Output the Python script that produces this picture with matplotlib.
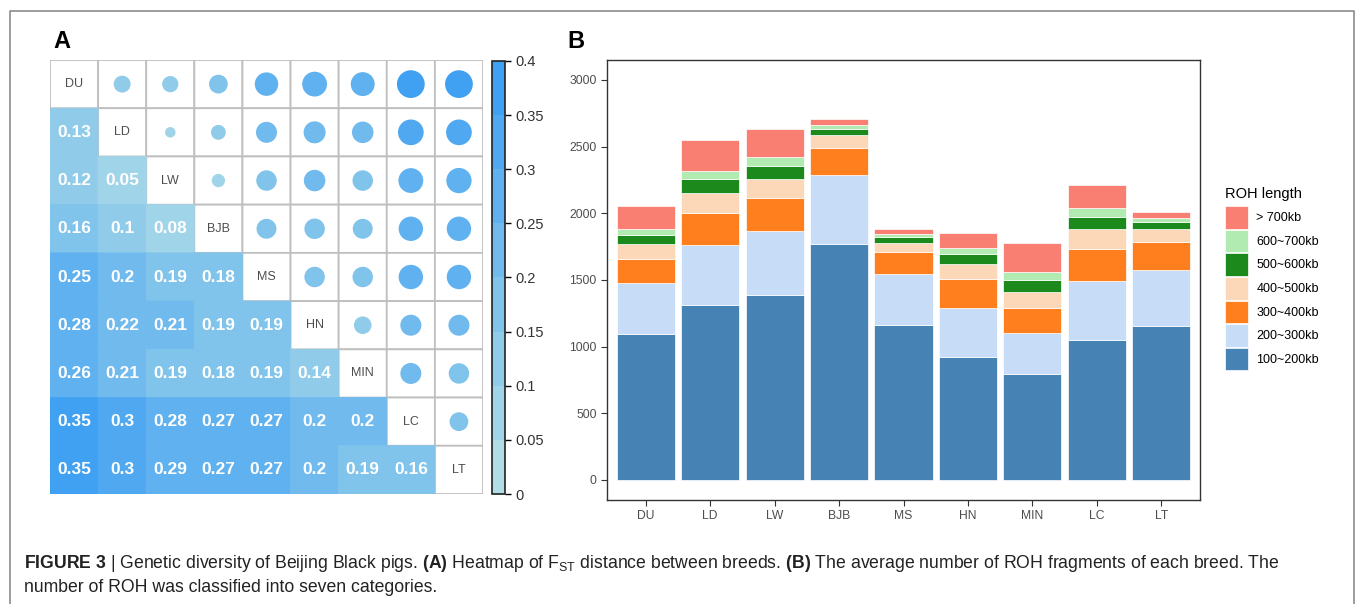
import numpy as np
import matplotlib
matplotlib.use("Agg")
import matplotlib.pyplot as plt
from matplotlib.colors import ListedColormap, BoundaryNorm, LinearSegmentedColormap
from matplotlib.cm import ScalarMappable
from matplotlib.patches import Patch
from matplotlib.lines import Line2D

plt.rcParams['font.family'] = ['Liberation Sans', 'DejaVu Sans']
plt.rcParams['mathtext.fontset'] = 'custom'
plt.rcParams['mathtext.rm'] = 'Liberation Sans'
plt.rcParams['mathtext.bf'] = 'Liberation Sans:bold'
plt.rcParams['mathtext.it'] = 'Liberation Sans:italic'

# breeds
breeds = ["DU", "LD", "LW", "BJB", "MS", "HN", "MIN", "LC", "LT"]

# lower triangle of the Fst matrix (row i, columns 0..i-1)
fst_lower = [
    [0.13],
    [0.12, 0.05],
    [0.16, 0.1, 0.08],
    [0.25, 0.2, 0.19, 0.18],
    [0.28, 0.22, 0.21, 0.19, 0.19],
    [0.26, 0.21, 0.19, 0.18, 0.19, 0.14],
    [0.35, 0.3, 0.28, 0.27, 0.27, 0.2, 0.2],
    [0.35, 0.3, 0.29, 0.27, 0.27, 0.2, 0.19, 0.16],
]
cbar_ticks = [0, 0.05, 0.1, 0.15, 0.2, 0.25, 0.3, 0.35, 0.4]

# average ROH counts per breed by length class
roh_labels = ["100~200kb", "200~300kb", "300~400kb", "400~500kb",
              "500~600kb", "600~700kb", "> 700kb"]
r100_200 = [1095, 1315, 1390, 1767, 1165, 925, 795, 1053, 1156]
r200_300 = [380, 450, 477, 518, 382, 368, 309, 436, 422]
r300_400 = [182, 240, 245, 207, 160, 211, 184, 246, 204]
r400_500 = [110, 150, 145, 95, 74, 119, 124, 145, 98]
r500_600 = [73, 100, 98, 48, 42, 75, 90, 95, 57]
r600_700 = [45, 65, 70, 25, 25, 41, 59, 63, 25]
r700 = [167, 227, 205, 45, 35, 111, 213, 172, 48]
roh_cols = ["#4682b4", "#c6dcf7", "#ff7f1e", "#fdd8b8",
            "#1c891c", "#b2ebb2", "#f87f71"]

W, H = 1357, 604
fig = plt.figure(figsize=(W / 100, H / 100), dpi=100)


def px(x0, y0, x1, y1):
    return [x0 / W, 1 - y1 / H, (x1 - x0) / W, (y1 - y0) / H]


# frame
fig.add_artist(Line2D([9.5 / W, 9.5 / W, 1353.5 / W, 1353.5 / W],
                      [0, 1 - 11 / H, 1 - 11 / H, 0], color="#8c8c8c", lw=1.2))

# ---- A: heatmap
n = len(breeds)
fst = np.full((n, n), np.nan)
for i, row in enumerate(fst_lower, start=1):
    for j, v in enumerate(row):
        fst[i, j] = v
        fst[j, i] = v

ramp = LinearSegmentedColormap.from_list("fst", ["#b0dde6", "#40a0f2"])
cmap = ListedColormap(ramp(np.linspace(0, 1, 8)))
norm = BoundaryNorm(cbar_ticks, 8)

ax = fig.add_axes(px(50, 60, 483, 494))
ii, jj = np.indices((n, n))
edges = np.arange(n + 1)
upper = np.ma.masked_where(ii > jj, np.zeros((n, n)))
ax.pcolor(edges, edges, upper, cmap=ListedColormap(["white"]),
          edgecolors="#bfbfbf", linewidth=1.3)
lower = np.ma.masked_where(~(ii > jj), fst)
ax.pcolor(edges, edges, lower, cmap=cmap, norm=norm,
          edgecolors="face", linewidth=0.6)

up = ii < jj
cell_pt = 433 / n * 0.72
diam = 0.617 * np.sqrt(fst[up] / 0.4) * cell_pt
ax.scatter(jj[up] + 0.5, ii[up] + 0.5, s=diam ** 2, c=fst[up],
           cmap=cmap, norm=norm, linewidths=0, zorder=3)

for i in range(n):
    for j in range(i):
        ax.text(j + 0.5, i + 0.5, f"{fst[i, j]:g}", color="white",
                fontsize=12.5, fontweight="bold", ha="center", va="center")
    ax.text(i + 0.5, i + 0.5, breeds[i], color="#4d4d4d", fontsize=9,
            ha="center", va="center")
ax.set_xlim(0, n)
ax.set_ylim(n, 0)
ax.axis("off")

cax = fig.add_axes(px(492, 61, 505, 494))
cb = fig.colorbar(ScalarMappable(norm=norm, cmap=cmap), cax=cax, ticks=cbar_ticks)
cb.ax.set_yticklabels([f"{t:g}" for t in cbar_ticks])
cb.ax.tick_params(labelsize=10.5, labelcolor="#333333", length=4, width=1)
cb.outline.set_linewidth(1.2)
cb.outline.set_edgecolor("#222222")

fig.text(53 / W, 1 - 48 / H, "A", fontsize=17, fontweight="bold")

# ---- B: stacked bars
bx = fig.add_axes(px(607, 60, 1200, 500))
x = np.arange(1, n + 1)
series = [r100_200, r200_300, r300_400, r400_500, r500_600, r600_700, r700]
bottom = np.zeros(n)
handles = []
for vals, lab, col in zip(series, roh_labels, roh_cols):
    bx.bar(x, vals, width=0.9, bottom=bottom, color=col,
           edgecolor="white", linewidth=0.5)
    bottom += np.array(vals)
    handles.append(Patch(facecolor=col, edgecolor="white", linewidth=0.5, label=lab))

bx.set_xlim(0.4, n + 0.6)
bx.set_ylim(-150, 3150)
bx.set_xticks(x)
bx.set_xticklabels(breeds)
bx.set_yticks([0, 500, 1000, 1500, 2000, 2500, 3000])
bx.tick_params(labelsize=8.7, labelcolor="#4d4d4d", color="#333333",
               length=4, width=0.8)
for s in bx.spines.values():
    s.set_color("#333333")
    s.set_linewidth(1.0)

leg = fig.legend(handles=handles[::-1], title="ROH length", loc="upper left",
                 bbox_to_anchor=(1219 / W, 1 - 185 / H), frameon=False,
                 fontsize=9, title_fontsize=10.5, handlelength=1.8,
                 handleheight=2.4, labelspacing=0.08, handletextpad=0.7,
                 borderpad=0, alignment="left")
leg.get_title().set_position((0, 4))

fig.text(567 / W, 1 - 48 / H, "B", fontsize=17, fontweight="bold")

# caption
cap1 = (r"$\bf{FIGURE\ 3\ }$| Genetic diversity of Beijing Black pigs. $\bf{(A)}$ "
        r"Heatmap of F$_{\rm ST}$ distance between breeds. $\bf{(B)}$ The average "
        r"number of ROH fragments of each breed. The")
fig.text(24 / W, 1 - 563 / H, cap1, fontsize=12.7, color="#222222", va="center")
fig.text(24 / W, 1 - 588 / H, "number of ROH was classified into seven categories.",
         fontsize=12.7, color="#222222", va="center")

fig.savefig("out.png", dpi=100)
